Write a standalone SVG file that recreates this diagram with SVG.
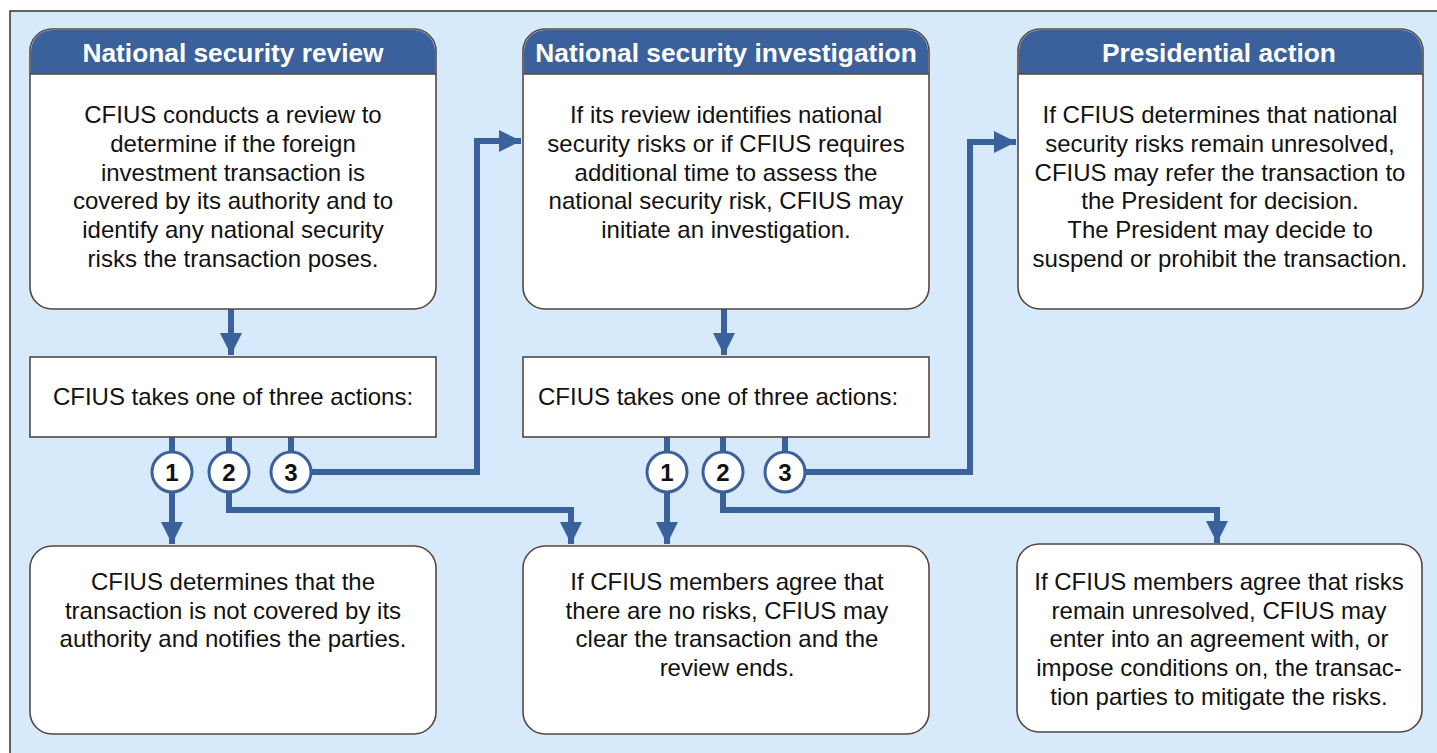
<svg xmlns="http://www.w3.org/2000/svg" width="1437" height="753" viewBox="0 0 1437 753">
<defs>
<style>
.box{fill:#fff;stroke:#56463f;stroke-width:1.6}
.hdr{fill:#3a619c}
.ht{font-family:"Liberation Sans",Arial,sans-serif;font-weight:bold;font-size:26.3px;fill:#fff;text-anchor:middle}
.bt{font-family:"Liberation Sans",Arial,sans-serif;font-size:24px;fill:#111;text-anchor:middle}
.num{font-family:"Liberation Sans",Arial,sans-serif;font-weight:bold;font-size:24px;fill:#111;text-anchor:middle}
.ln{fill:none;stroke:#3a619c;stroke-width:6}
.cir{fill:#fff;stroke:#3a619c;stroke-width:3}
</style>
<marker id="ah" viewBox="0 0 10 10" refX="10" refY="5" markerWidth="3.7" markerHeight="3.7" orient="auto" markerUnits="strokeWidth">
<path d="M0,0 L10,5 L0,10 z" fill="#3a619c"/>
</marker>
</defs>
<rect x="10" y="11" width="1450" height="770" fill="#d7eafc" stroke="#333" stroke-width="1.5"/>

<g id="connectors">
<path class="ln" d="M231,309 V355" marker-end="url(#ah)"/>
<path class="ln" d="M724,309 V355" marker-end="url(#ah)"/>
<path class="ln" d="M172,437 V452 M229,437 V452 M291,437 V452"/>
<path class="ln" d="M667,437 V452 M723,437 V452 M785,437 V452"/>
<path class="ln" d="M172,492 V544" marker-end="url(#ah)"/>
<path class="ln" d="M229,492 V510 H571 V544" marker-end="url(#ah)"/>
<path class="ln" d="M310,472 H477 V141 H521" marker-end="url(#ah)"/>
<path class="ln" d="M667,492 V544" marker-end="url(#ah)"/>
<path class="ln" d="M723,492 V510 H1217 V543" marker-end="url(#ah)"/>
<path class="ln" d="M805,472 H970 V142 H1016" marker-end="url(#ah)"/>
</g>

<g id="review">
<rect class="box" x="30" y="29" width="406" height="280" rx="22"/>
<path class="hdr" d="M31,74 V51 A21,21 0 0 1 52,30 H414 A21,21 0 0 1 435,51 V74 Z"/>
<line x1="30" y1="74" x2="436" y2="74" stroke="#56463f" stroke-width="1.5"/>
<text class="ht" x="233" y="62">National security review</text>
<text class="bt" x="233" y="123">CFIUS conducts a review to</text>
<text class="bt" x="233" y="152">determine if the foreign</text>
<text class="bt" x="233" y="181">investment transaction is</text>
<text class="bt" x="233" y="209">covered by its authority and to</text>
<text class="bt" x="233" y="238">identify any national security</text>
<text class="bt" x="233" y="267">risks the transaction poses.</text>
</g>

<g id="investigation">
<rect class="box" x="523" y="29" width="406" height="280" rx="22"/>
<path class="hdr" d="M524,74 V51 A21,21 0 0 1 545,30 H907 A21,21 0 0 1 928,51 V74 Z"/>
<line x1="523" y1="74" x2="929" y2="74" stroke="#56463f" stroke-width="1.5"/>
<text class="ht" x="726" y="62">National security investigation</text>
<text class="bt" x="726" y="123">If its review identifies national</text>
<text class="bt" x="726" y="152">security risks or if CFIUS requires</text>
<text class="bt" x="726" y="181">additional time to assess the</text>
<text class="bt" x="726" y="209">national security risk, CFIUS may</text>
<text class="bt" x="726" y="238">initiate an investigation.</text>
</g>

<g id="presidential">
<rect class="box" x="1018" y="29" width="405" height="280" rx="22"/>
<path class="hdr" d="M1019,74 V51 A21,21 0 0 1 1040,30 H1401 A21,21 0 0 1 1422,51 V74 Z"/>
<line x1="1018" y1="74" x2="1423" y2="74" stroke="#56463f" stroke-width="1.5"/>
<text class="ht" x="1219" y="62">Presidential action</text>
<text class="bt" x="1220" y="123">If CFIUS determines that national</text>
<text class="bt" x="1220" y="152">security risks remain unresolved,</text>
<text class="bt" x="1220" y="181">CFIUS may refer the transaction to</text>
<text class="bt" x="1220" y="209">the President for decision.</text>
<text class="bt" x="1220" y="238">The President may decide to</text>
<text class="bt" x="1220" y="267">suspend or prohibit the transaction.</text>
</g>

<g id="actions1">
<rect class="box" x="30" y="357" width="406" height="80"/>
<text class="bt" x="233" y="405">CFIUS takes one of three actions:</text>
</g>
<g id="actions2">
<rect class="box" x="523" y="357" width="406" height="80"/>
<text class="bt" x="538" y="405" style="text-anchor:start">CFIUS takes one of three actions:</text>
</g>

<g id="c1a"><circle class="cir" cx="172" cy="472" r="20"/><text class="num" x="172" y="480.5">1</text></g>
<g id="c2a"><circle class="cir" cx="229" cy="472" r="20"/><text class="num" x="229" y="480.5">2</text></g>
<g id="c3a"><circle class="cir" cx="291" cy="472" r="20"/><text class="num" x="291" y="480.5">3</text></g>
<g id="c1b"><circle class="cir" cx="667" cy="472" r="20"/><text class="num" x="667" y="480.5">1</text></g>
<g id="c2b"><circle class="cir" cx="723" cy="472" r="20"/><text class="num" x="723" y="480.5">2</text></g>
<g id="c3b"><circle class="cir" cx="785" cy="472" r="20"/><text class="num" x="785" y="480.5">3</text></g>

<g id="notcovered">
<rect class="box" x="30" y="546" width="406" height="188" rx="22"/>
<text class="bt" x="233" y="590">CFIUS determines that the</text>
<text class="bt" x="233" y="619">transaction is not covered by its</text>
<text class="bt" x="233" y="647">authority and notifies the parties.</text>
</g>

<g id="clear">
<rect class="box" x="523" y="546" width="406" height="188" rx="22"/>
<text class="bt" x="727" y="590">If CFIUS members agree that</text>
<text class="bt" x="727" y="619">there are no risks, CFIUS may</text>
<text class="bt" x="727" y="647">clear the transaction and the</text>
<text class="bt" x="727" y="676">review ends.</text>
</g>

<g id="mitigate">
<rect class="box" x="1017" y="544" width="405" height="188" rx="22"/>
<text class="bt" x="1219" y="590">If CFIUS members agree that risks</text>
<text class="bt" x="1219" y="619">remain unresolved, CFIUS may</text>
<text class="bt" x="1219" y="647">enter into an agreement with, or</text>
<text class="bt" x="1219" y="676">impose conditions on, the transac-</text>
<text class="bt" x="1219" y="705">tion parties to mitigate the risks.</text>
</g>
</svg>
